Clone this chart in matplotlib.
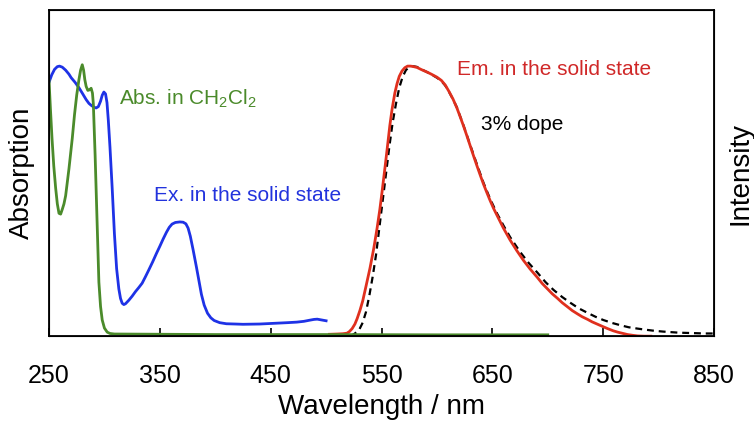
import matplotlib
matplotlib.use("Agg")
import matplotlib.pyplot as plt

plt.rcParams['font.family'] = ['Liberation Sans', 'DejaVu Sans']

# absorption in CH2Cl2 (green)
abs_wl = [250, 251.3, 252.7, 254.3, 256, 257.5, 259, 260.5, 262, 263.5, 265, 268, 271, 273, 275,
          277, 278.5, 280, 281.2, 282.3, 283.5, 285, 286.5, 288, 289.2, 290, 291.6, 293.4, 295,
          296.5, 298, 300, 302.5, 305, 309, 400, 500, 600, 700]
abs_val = [0.948, 0.84, 0.733, 0.63, 0.548, 0.49, 0.455, 0.452, 0.47, 0.49, 0.52, 0.62, 0.733,
           0.82, 0.893, 0.95, 0.985, 1.005, 0.985, 0.95, 0.925, 0.91, 0.912, 0.918, 0.9, 0.86,
           0.67, 0.42, 0.2, 0.11, 0.06, 0.03, 0.015, 0.01, 0.008, 0.006, 0.006, 0.005, 0.005]

# excitation in the solid state (blue)
ex_wl = [250, 252.5, 255, 257.5, 259.5, 262, 265, 268, 270, 273.5, 277, 280, 283.5, 286, 288,
         290.5, 292.5, 294.5, 296.5, 298, 299.5, 301, 302.3, 303.5, 305, 307, 309, 311, 313,
         314.5, 316, 317.5, 319, 322, 325, 328, 331, 334, 337, 340, 343.5, 347, 350, 353, 356,
         358.5, 361, 364, 368, 371, 373.5, 375.5, 377.5, 380, 383, 385.5, 387.5, 390, 393, 396,
         399, 404, 410, 418, 425, 440, 455, 465, 473.5, 480, 485, 489, 492, 496, 500]
ex_val = [0.94, 0.968, 0.988, 0.998, 1.0, 0.996, 0.985, 0.97, 0.957, 0.94, 0.92, 0.9, 0.876,
          0.862, 0.855, 0.848, 0.845, 0.85, 0.87, 0.892, 0.904, 0.897, 0.865, 0.8, 0.7, 0.548,
          0.38, 0.25, 0.175, 0.14, 0.122, 0.117, 0.12, 0.133, 0.148, 0.165, 0.18, 0.196, 0.22,
          0.245, 0.275, 0.307, 0.333, 0.36, 0.385, 0.403, 0.415, 0.421, 0.423, 0.422, 0.416,
          0.4, 0.37, 0.32, 0.256, 0.2, 0.155, 0.115, 0.085, 0.068, 0.058, 0.05, 0.046, 0.045,
          0.044, 0.045, 0.048, 0.05, 0.052, 0.055, 0.059, 0.062, 0.063, 0.06, 0.057]

# emission in the solid state (red)
em_wl = [503, 510, 515, 518.8, 521, 523.5, 526, 528, 530.5, 533, 536, 539.6, 543, 546, 548.5,
         550.5, 553, 555, 557.5, 559.5, 562, 564, 566, 568.5, 571, 573.5, 576, 578, 582, 586,
         591, 595, 600, 604, 607.5, 611, 614.5, 618, 621, 624, 627, 630, 633, 636, 639, 642,
         645, 648, 651, 654.5, 660, 666, 672, 678, 684, 690.7, 695, 700, 704, 708.8, 713, 718,
         722, 727, 731, 736, 740, 745, 750, 754, 759, 763, 768, 772, 777, 781, 787, 793]
em_val = [0.007, 0.008, 0.009, 0.011, 0.017, 0.028, 0.045, 0.065, 0.095, 0.13, 0.185, 0.252,
          0.325, 0.4, 0.47, 0.535, 0.62, 0.69, 0.78, 0.84, 0.9, 0.935, 0.962, 0.982, 0.994,
          1.0, 1.0, 0.999, 0.995, 0.987, 0.978, 0.97, 0.959, 0.947, 0.93, 0.905, 0.878, 0.845,
          0.812, 0.778, 0.742, 0.705, 0.668, 0.632, 0.597, 0.563, 0.532, 0.502, 0.474, 0.445,
          0.4, 0.356, 0.317, 0.281, 0.249, 0.217, 0.195, 0.174, 0.157, 0.14, 0.124, 0.108, 0.095,
          0.082, 0.072, 0.062, 0.053, 0.044, 0.035, 0.028, 0.02, 0.015, 0.01, 0.006, 0.003,
          0.001, 0.0, 0.0]

# 3% dope (black dashed)
dope_wl = [522, 526, 530, 533, 536, 539, 542, 545, 548, 551, 554, 557, 560, 563, 566, 569, 572,
           575, 578, 582, 586, 591, 595, 600, 604, 607.5, 611, 614.5, 618, 624, 630, 636, 642,
           648, 654.5, 660, 666, 675, 683, 690.7, 698, 705, 713, 720.6, 728, 736, 743, 750, 758,
           766, 773, 781, 788, 796, 804, 811, 818, 826, 834, 841, 850]
dope_val = [0.0, 0.01, 0.025, 0.05, 0.09, 0.15, 0.22, 0.3, 0.4, 0.5, 0.6, 0.7, 0.79, 0.86, 0.92,
            0.96, 0.985, 0.997, 1.0, 0.997, 0.988, 0.978, 0.969, 0.957, 0.945, 0.928, 0.904,
            0.877, 0.847, 0.78, 0.708, 0.637, 0.568, 0.508, 0.452, 0.41, 0.367, 0.312, 0.27,
            0.235, 0.2, 0.172, 0.145, 0.123, 0.103, 0.086, 0.072, 0.06, 0.049, 0.04, 0.033,
            0.028, 0.024, 0.02, 0.017, 0.015, 0.013, 0.012, 0.011, 0.01, 0.01]

xticks = [250, 350, 450, 550, 650, 750, 850]

fig = plt.figure(figsize=(7.54, 4.25), dpi=100)
ax = fig.add_axes([0.065, 0.209, 0.882, 0.767])

ax.plot(ex_wl, ex_val, color='#1e32e6', lw=2.0, solid_joinstyle='round')
ax.plot(dope_wl, dope_val, color='black', lw=1.6, linestyle=(0, (3.1, 2.2)))
ax.plot(em_wl, em_val, color='#e0301e', lw=2.0, solid_joinstyle='round')
ax.plot(abs_wl, abs_val, color='#4b8b2b', lw=2.0, solid_joinstyle='round')

ax.text(313, 0.878, 'Abs. in CH$_\\mathregular{2}$Cl$_\\mathregular{2}$', color='#4a8a2a',
        fontsize=15, ha='left', va='center')
ax.text(345, 0.522, 'Ex. in the solid state', color='#2233dd', fontsize=15, ha='left', va='center')
ax.text(618, 0.989, 'Em. in the solid state', color='#d02828', fontsize=15, ha='left', va='center')
ax.text(640, 0.785, '3% dope', color='black', fontsize=15, ha='left', va='center')

ax.set_xlim(250, 850)
ax.set_ylim(0, 1.207)
ax.set_xticks(xticks)
ax.set_yticks([])
ax.tick_params(axis='x', direction='in', length=6, width=1.2, pad=20, labelsize=18)
for s in ax.spines.values():
    s.set_linewidth(1.3)

ax.set_xlabel('Wavelength / nm', fontsize=20, labelpad=4)
ax.set_ylabel('Absorption', fontsize=20, labelpad=10)
ax2 = ax.twinx()
ax2.set_yticks([])
ax2.set_ylabel('Intensity', fontsize=20, labelpad=10)

fig.savefig('out.png', dpi=100)
